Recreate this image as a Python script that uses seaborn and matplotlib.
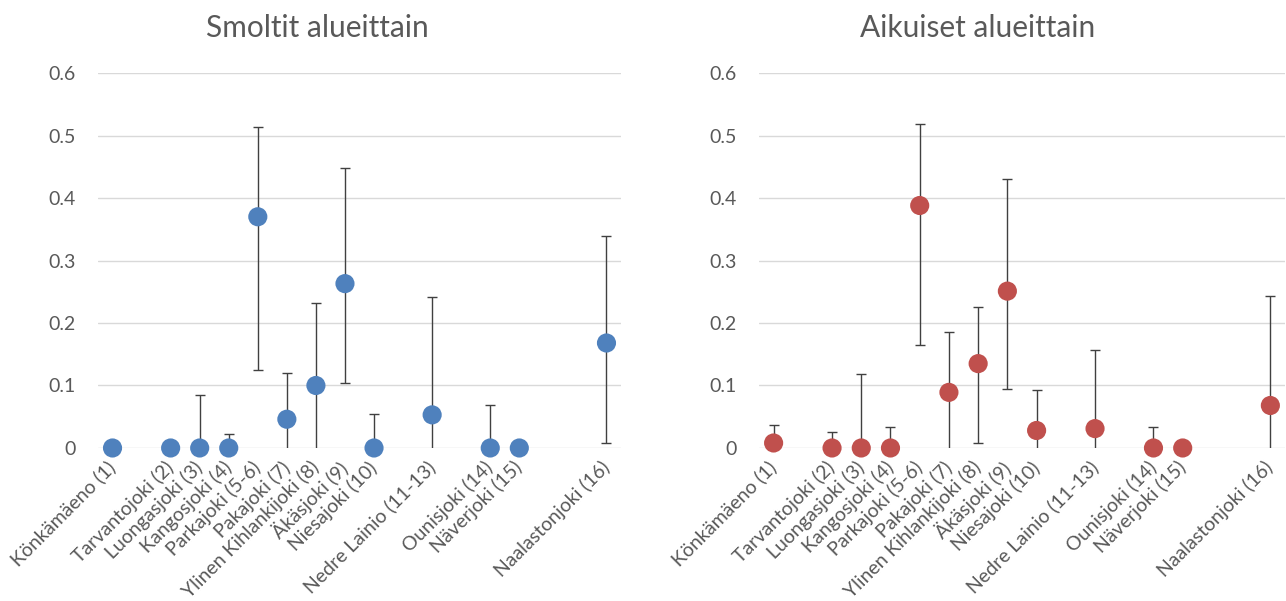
import matplotlib
matplotlib.use("Agg")
import matplotlib.pyplot as plt
import matplotlib.transforms as mtransforms
import numpy as np
import pandas as pd
import seaborn as sns

# Alueet ja niiden paikat kategoria-akselilla (tyhjät paikat välissä)
areas = [
    "Könkämäeno (1)", "Tarvantojoki (2)", "Luongasjoki (3)", "Kangosjoki (4)",
    "Parkajoki (5-6)", "Pakajoki (7)", "Ylinen Kihlankijoki (8)", "Äkäsjoki (9)",
    "Niesajoki (10)", "Nedre Lainio (11-13)", "Ounisjoki (14)", "Näverjoki (15)",
    "Naalastonjoki (16)",
]
slots = [1, 3, 4, 5, 6, 7, 8, 9, 10, 12, 14, 15, 18]

# Smoltit
smolt_val = [0, 0, 0, 0, 0.370, 0.046, 0.100, 0.263, 0, 0.053, 0, 0, 0.168]
smolt_low = [0, 0, 0, 0, 0.125, 0, 0, 0.104, 0, 0, 0, 0, 0.0085]
smolt_high = [0, 0, 0.084, 0.023, 0.513, 0.120, 0.232, 0.448, 0.054, 0.242, 0.068, 0, 0.340]

# Aikuiset
adult_val = [0.008, 0, 0, 0, 0.388, 0.089, 0.135, 0.251, 0.028, 0.031, 0, 0, 0.068]
adult_low = [0, 0, 0, 0, 0.164, 0, 0.0085, 0.095, 0, 0, 0, 0, 0]
adult_high = [0.037, 0.026, 0.118, 0.033, 0.518, 0.186, 0.225, 0.431, 0.093, 0.156, 0.033, 0, 0.244]

sns.set_theme(style="white")
plt.rcParams["font.family"] = ["Lato", "DejaVu Sans"]

fig = plt.figure(figsize=(12.86, 6.01), dpi=100)
ax1 = fig.add_axes([0.0762, 0.2546, 0.4067, 0.6239])
ax2 = fig.add_axes([0.5902, 0.2546, 0.4090, 0.6239])

panels = [
    (ax1, "Smoltit alueittain", smolt_val, smolt_low, smolt_high, "#4F81BD", 0.2465),
    (ax2, "Aikuiset alueittain", adult_val, adult_low, adult_high, "#C0504D", 0.7600),
]

shift = mtransforms.ScaledTranslation(5 / 100, -2 / 100, fig.dpi_scale_trans)

for ax, title, val, low, high, color, tx in panels:
    df = pd.DataFrame({"x": slots, "y": val, "lo": low, "hi": high})
    up = df["hi"] - df["y"]
    dn = df["y"] - df["lo"]

    # ylävirheet (hatut)
    m = up > 0
    ax.errorbar(df.x[m], df.y[m], yerr=[np.zeros(m.sum()), up[m]], fmt="none",
                ecolor="#404040", elinewidth=1, capsize=3.5, capthick=1, zorder=2)
    # alavirheet, hattu vain kun alaraja > 0
    m = (dn > 0) & (df["lo"] > 0)
    ax.errorbar(df.x[m], df.y[m], yerr=[dn[m], np.zeros(m.sum())], fmt="none",
                ecolor="#404040", elinewidth=1, capsize=3.5, capthick=1, zorder=2)
    m = (dn > 0) & (df["lo"] <= 0)
    ax.errorbar(df.x[m], df.y[m], yerr=[dn[m], np.zeros(m.sum())], fmt="none",
                ecolor="#404040", elinewidth=1, capsize=0, zorder=2)

    sns.scatterplot(data=df, x="x", y="y", ax=ax, color=color, s=190,
                    edgecolor="none", zorder=3, clip_on=False, legend=False)

    ax.set_xlim(0.5, 18.5)
    ax.set_ylim(0, 0.6)
    ax.set_yticks(np.arange(0, 0.61, 0.1))
    ax.set_yticklabels(["0", "0.1", "0.2", "0.3", "0.4", "0.5", "0.6"])
    ax.set_xticks(slots)
    ax.set_xticklabels(areas, rotation=45, ha="right", va="center",
                       rotation_mode="anchor")
    for lab in ax.get_xticklabels():
        lab.set_transform(lab.get_transform() + shift)
    ax.tick_params(axis="both", length=0, labelsize=14, labelcolor="#595959")
    ax.tick_params(axis="x", pad=12)
    ax.tick_params(axis="y", pad=16)
    ax.yaxis.grid(True, color="#D9D9D9", linewidth=1)
    ax.set_axisbelow(True)
    for s in ax.spines.values():
        s.set_visible(False)
    ax.set_xlabel("")
    ax.set_ylabel("")
    fig.text(tx, 0.953, title, ha="center", va="center", fontsize=21.5, color="#595959")

fig.savefig("out.png", dpi=100)
